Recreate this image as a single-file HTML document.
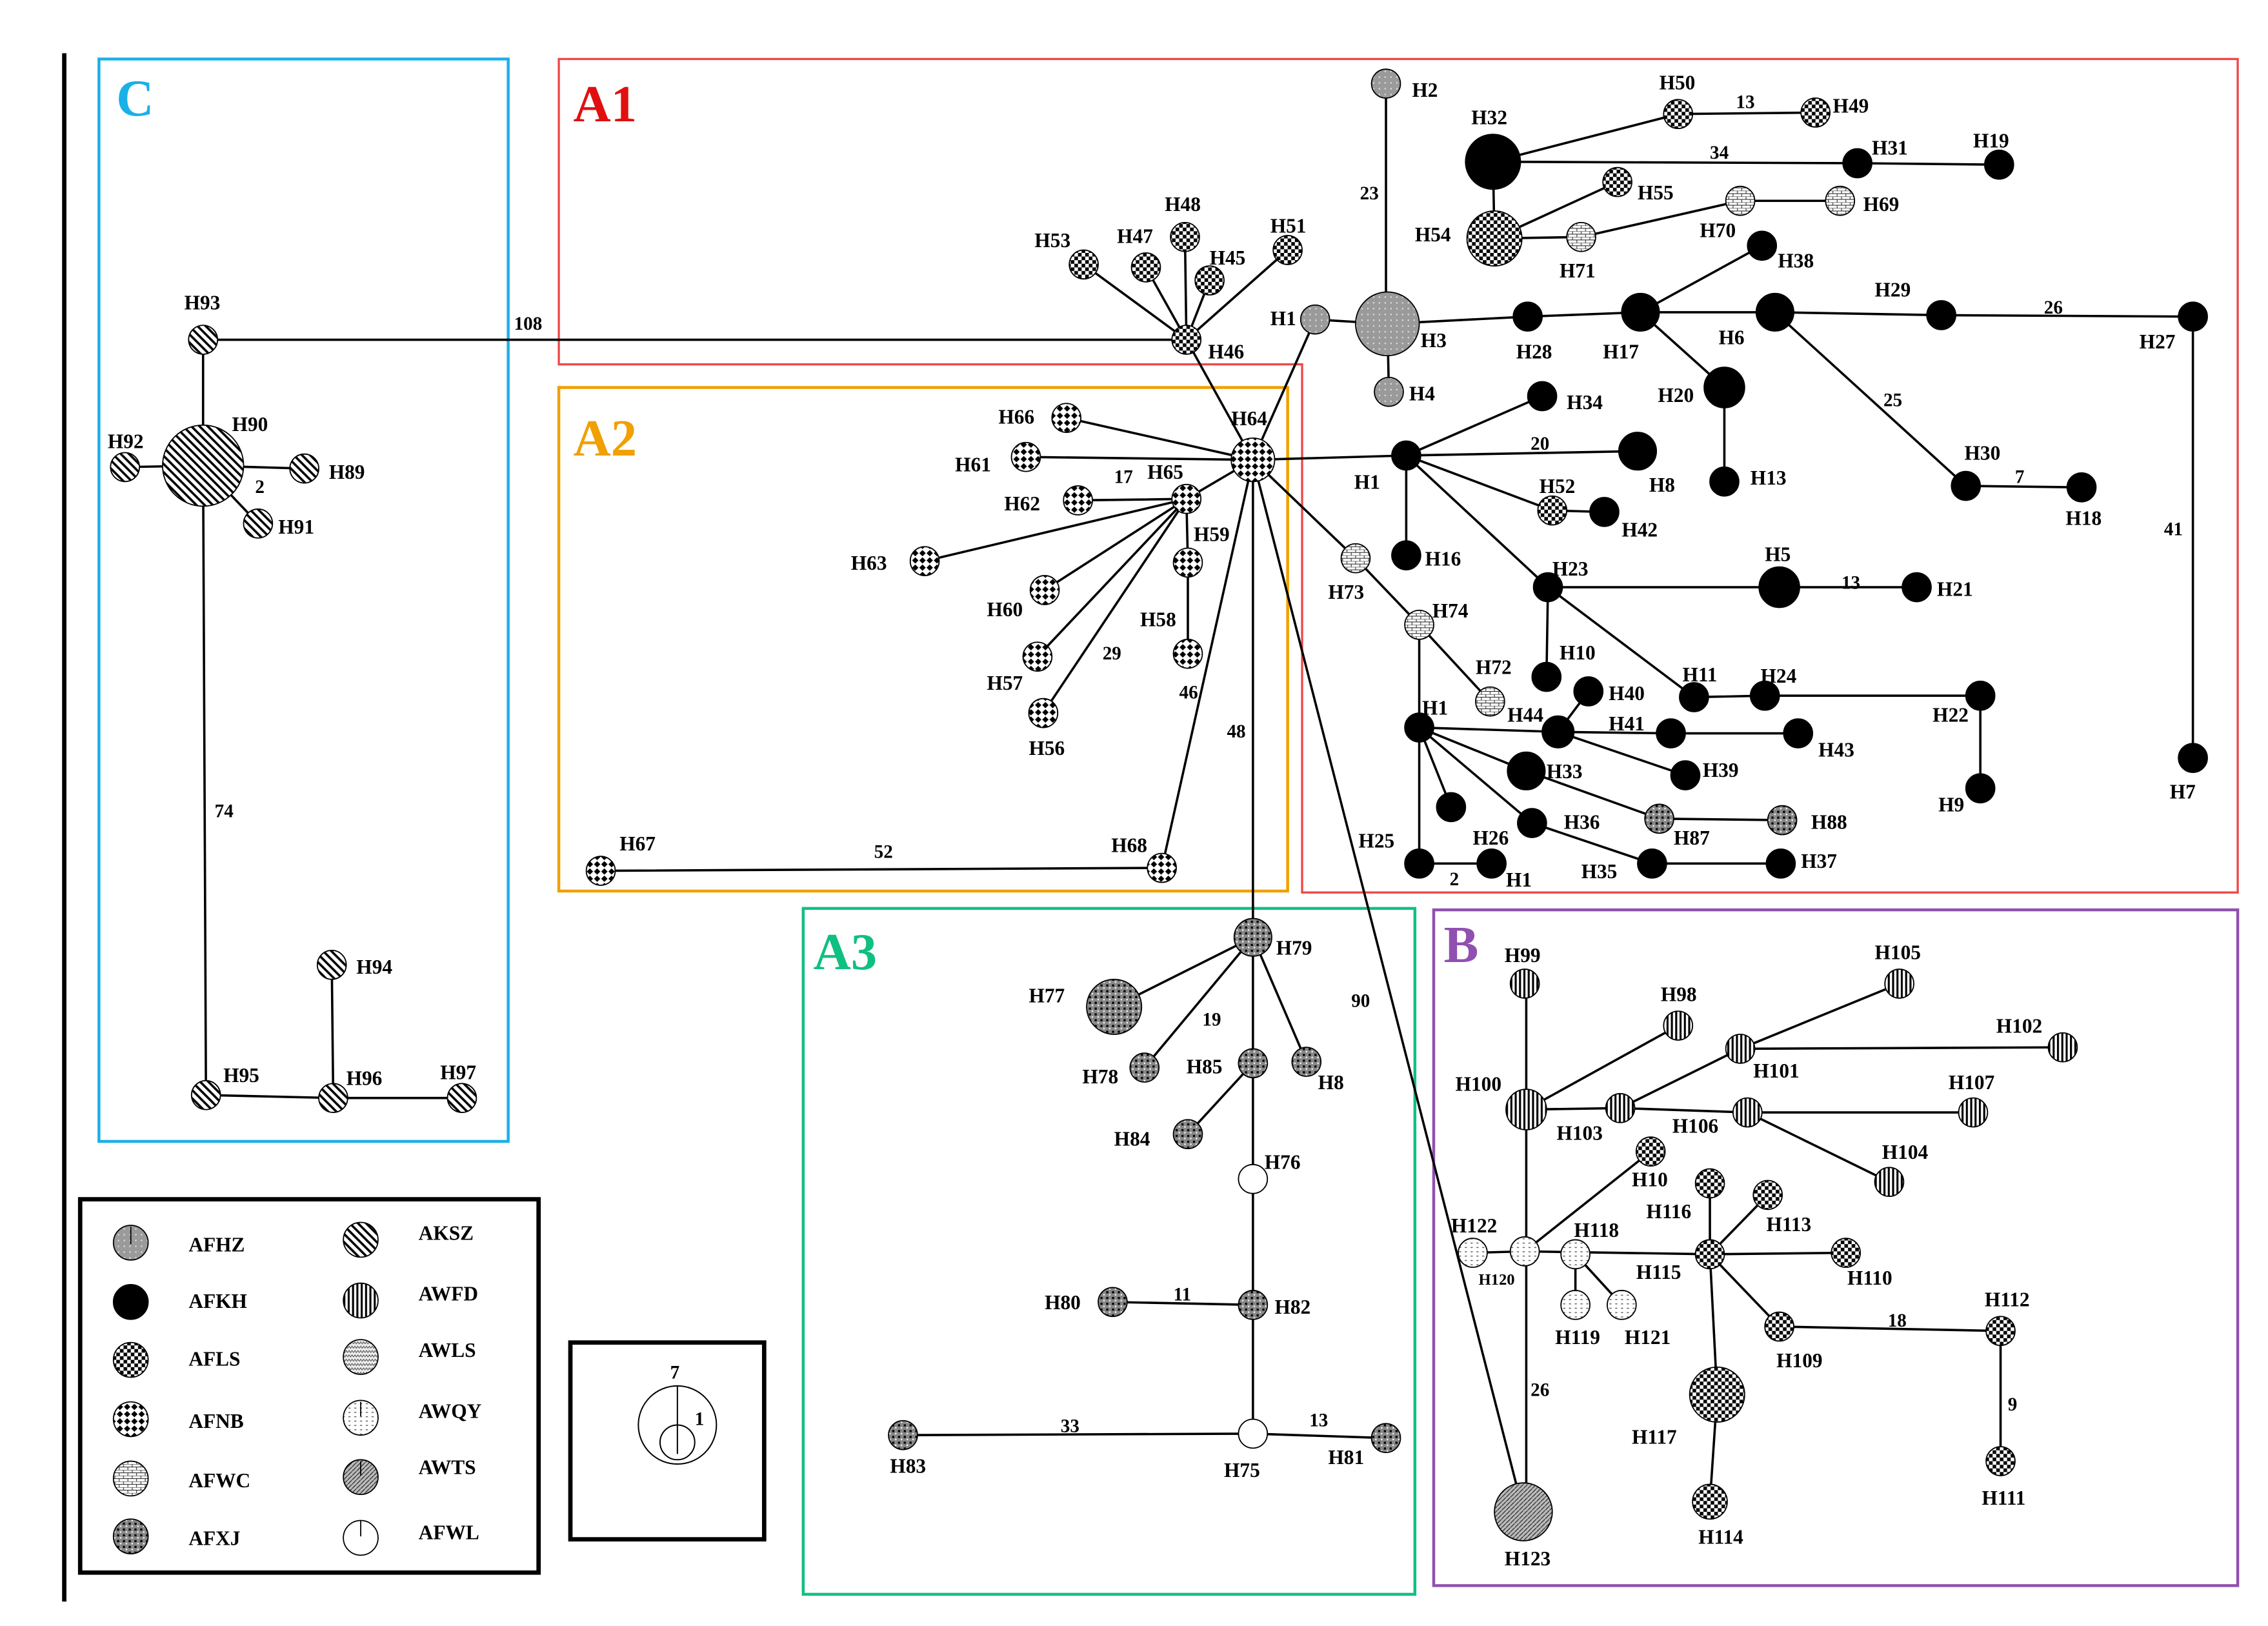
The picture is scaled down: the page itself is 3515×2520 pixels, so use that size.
<!DOCTYPE html>
<html><head><meta charset="utf-8"><style>html,body{margin:0;padding:0;background:#fff}svg{display:block}</style></head>
<body>
<svg width="3515" height="2520" viewBox="0 0 1553 1130" preserveAspectRatio="none" xmlns="http://www.w3.org/2000/svg" font-family="Liberation Serif, serif" font-weight="bold">
<defs>
<pattern id="hz" width="4" height="4" patternUnits="userSpaceOnUse"><rect width="4" height="4" fill="#9a9a9a"/><rect x="1" y="1" width="1" height="1" fill="#ddd"/></pattern>
<pattern id="ls" width="5" height="5" patternUnits="userSpaceOnUse"><rect width="5" height="5" fill="#fff"/><rect width="2.5" height="2.5" fill="#000"/><rect x="2.5" y="2.5" width="2.5" height="2.5" fill="#000"/></pattern>
<pattern id="nb" width="5" height="5" patternUnits="userSpaceOnUse"><rect width="5" height="5" fill="#fff"/><path d="M2.5 0.3L4.7 2.5L2.5 4.7L0.3 2.5Z" fill="#000"/></pattern>
<pattern id="wc" width="6" height="4" patternUnits="userSpaceOnUse"><rect width="6" height="4" fill="#fff"/><path d="M0 0H6M0 2H6M1 0V2M4 2V4" stroke="#333" stroke-width="0.5"/></pattern>
<pattern id="xj" width="4" height="4" patternUnits="userSpaceOnUse"><rect width="4" height="4" fill="#888"/><rect x="0.5" y="0.5" width="1.5" height="1.5" fill="#000"/><rect x="2.5" y="2.5" width="1" height="1" fill="#fff"/></pattern>
<pattern id="sz" width="4" height="4" patternUnits="userSpaceOnUse" patternTransform="rotate(-45)"><rect width="4" height="4" fill="#fff"/><rect width="1.6" height="4" fill="#000"/></pattern>
<pattern id="fd" width="3" height="3" patternUnits="userSpaceOnUse"><rect width="3" height="3" fill="#fff"/><rect width="1.4" height="3" fill="#000"/></pattern>
<pattern id="wl" width="4" height="3" patternUnits="userSpaceOnUse"><rect width="4" height="3" fill="#eee"/><path d="M0 2L1 0.5L2 2L3 0.5L4 2" stroke="#555" stroke-width="0.5" fill="none"/></pattern>
<pattern id="qy" width="4" height="3" patternUnits="userSpaceOnUse"><rect width="4" height="3" fill="#fff"/><rect x="0.5" y="1" width="1.5" height="0.6" fill="#555"/></pattern>
<pattern id="ts" width="3" height="3" patternUnits="userSpaceOnUse"><rect width="3" height="3" fill="#bbb"/><path d="M0 3L3 0" stroke="#333" stroke-width="0.6"/></pattern>
</defs>
<style>
.e{stroke:#000;stroke-width:1.6;fill:none}
.n{stroke:#000;stroke-width:0.8}
text{font-size:14px;fill:#000}
.el{font-size:13px}
.big{font-size:36px}
</style>
<g transform="translate(44,37) scale(0.9902,1.0056) translate(-44,-37)">
<line x1="44" y1="37" x2="44" y2="1107" stroke="#000" stroke-width="3"/>
<rect x="68" y="41" width="283" height="748" fill="none" stroke="#1ab0e8" stroke-width="2"/>
<path d="M386 41H1547V617H900V252H386Z" fill="none" stroke="#f04848" stroke-width="1.5"/>
<rect x="386" y="268" width="504" height="348" fill="none" stroke="#f0a000" stroke-width="2"/>
<rect x="555" y="628" width="423" height="474" fill="none" stroke="#10c080" stroke-width="2"/>
<rect x="991" y="629" width="556" height="467" fill="none" stroke="#9050b0" stroke-width="2"/>
<text x="80" y="80" class="big" style="fill:#1ab0e8">C</text>
<text x="396" y="84" class="big" style="fill:#e01010">A1</text>
<text x="396" y="315" class="big" style="fill:#f0a000">A2</text>
<text x="562" y="670" class="big" style="fill:#10c080">A3</text>
<text x="998" y="665" class="big" style="fill:#9050b0">B</text>

<g class="e">
<path d="M140 235H820M140 235V322M140 322L86 323M140 322L210 324M140 322L178 362M140 322L142 757L230 759L319 759M230 759L229 667"/>
<path d="M820 235L749 183M820 235L792 185M820 235L819 164M820 235L836 194M820 235L890 173M820 235L866 318"/>
<path d="M958 58V224M959 224L909 221M959 224L960 271M909 221L866 318M959 224L1056 219L1134 216L1227 216L1342 218L1516 219L1516 524M1134 216L1218 170M1134 216L1192 268L1192 333M1227 216L1359 336L1439 337"/>
<path d="M1032 112L1160 79L1255 78M1032 112L1284 113L1382 114M1033 165L1032 112M1033 165L1118 126M1033 165L1093 164L1203 139L1272 139"/>
<path d="M866 318L972 315M972 315L1066 274M972 315L1132 312M972 315L1073 353L1109 354M972 315L972 384M972 315L1070 406L1230 406L1325 406M1070 406L1069 468M1070 406L1171 482L1220 481L1369 481L1369 545"/>
<path d="M866 318L937 386L981 432L1030 485M981 432L981 503M981 503L1077 506L1098 478M1077 506L1155 507L1243 507M1077 506L1165 536M981 503L1055 533L1147 566L1232 567M981 503L1003 558M981 503L1059 569L1142 597L1231 597M981 503L981 597L1031 597"/>
<path d="M866 318L737 289M866 318L709 316M866 318L820 345M820 345L745 346M820 345L639 388M820 345L722 408M820 345L717 454M820 345L721 493M820 345L821 389L821 452M866 318L803 600L415 602M866 318L866 648M866 318L1053 1045"/>
<path d="M866 648L770 696M866 648L791 738M866 648L866 735M866 648L903 734M866 735L821 784M866 735V991M866 902L769 900M866 991L624 992M866 991L958 994"/>
<path d="M1055 767V680M1055 767L1160 709M1055 767L1120 766L1203 725L1313 680M1203 725L1426 724M1120 766L1208 769L1364 769M1208 769L1306 817M1055 767V1045M1054 865L1018 866M1054 865L1182 867M1089 867L1089 902M1089 867L1121 902M1054 865L1141 796M1182 867V818M1182 867L1222 826M1182 867L1276 866M1182 867L1230 917L1383 920L1383 1010M1182 867L1187 964L1182 1038"/>
</g>

<g class="n">
<circle cx="140" cy="235" r="10" fill="url(#sz)"/><circle cx="140" cy="322" r="28" fill="url(#sz)"/><circle cx="86" cy="323" r="10" fill="url(#sz)"/><circle cx="210" cy="324" r="10" fill="url(#sz)"/><circle cx="178" cy="362" r="10" fill="url(#sz)"/><circle cx="142" cy="757" r="10" fill="url(#sz)"/><circle cx="230" cy="759" r="10" fill="url(#sz)"/><circle cx="229" cy="667" r="10" fill="url(#sz)"/><circle cx="319" cy="759" r="10" fill="url(#sz)"/>
<circle cx="820" cy="235" r="10" fill="url(#ls)"/><circle cx="749" cy="183" r="10" fill="url(#ls)"/><circle cx="792" cy="185" r="10" fill="url(#ls)"/><circle cx="819" cy="164" r="10" fill="url(#ls)"/><circle cx="836" cy="194" r="10" fill="url(#ls)"/><circle cx="890" cy="173" r="10" fill="url(#ls)"/>
<circle cx="958" cy="58" r="10" fill="url(#hz)"/><circle cx="959" cy="224" r="22" fill="url(#hz)"/><circle cx="909" cy="221" r="10" fill="url(#hz)"/><circle cx="960" cy="271" r="10" fill="url(#hz)"/>
<g fill="#000"><circle cx="1056" cy="219" r="10"/><circle cx="1134" cy="216" r="13"/><circle cx="1227" cy="216" r="13"/><circle cx="1342" cy="218" r="10"/><circle cx="1516" cy="219" r="10"/><circle cx="1516" cy="524" r="10"/><circle cx="1218" cy="170" r="10"/><circle cx="1192" cy="268" r="14"/><circle cx="1192" cy="333" r="10"/><circle cx="1359" cy="336" r="10"/><circle cx="1439" cy="337" r="10"/><circle cx="1032" cy="112" r="19"/><circle cx="1284" cy="113" r="10"/><circle cx="1382" cy="114" r="10"/>
<circle cx="972" cy="315" r="10"/><circle cx="1066" cy="274" r="10"/><circle cx="1132" cy="312" r="13"/><circle cx="1109" cy="354" r="10"/><circle cx="972" cy="384" r="10"/><circle cx="1070" cy="406" r="10"/><circle cx="1230" cy="406" r="14"/><circle cx="1325" cy="406" r="10"/><circle cx="1069" cy="468" r="10"/><circle cx="1171" cy="482" r="10"/><circle cx="1220" cy="481" r="10"/><circle cx="1369" cy="481" r="10"/><circle cx="1369" cy="545" r="10"/>
<circle cx="981" cy="503" r="10"/><circle cx="1077" cy="506" r="11"/><circle cx="1098" cy="478" r="10"/><circle cx="1155" cy="507" r="10"/><circle cx="1243" cy="507" r="10"/><circle cx="1165" cy="536" r="10"/><circle cx="1055" cy="533" r="13"/><circle cx="1003" cy="558" r="10"/><circle cx="1059" cy="569" r="10"/><circle cx="1142" cy="597" r="10"/><circle cx="1231" cy="597" r="10"/><circle cx="981" cy="597" r="10"/><circle cx="1031" cy="597" r="10"/></g>
<circle cx="1147" cy="566" r="10" fill="url(#xj)"/><circle cx="1232" cy="567" r="10" fill="url(#xj)"/>
<circle cx="1160" cy="79" r="10" fill="url(#ls)"/><circle cx="1255" cy="78" r="10" fill="url(#ls)"/><circle cx="1033" cy="165" r="19" fill="url(#ls)"/><circle cx="1118" cy="126" r="10" fill="url(#ls)"/><circle cx="1073" cy="353" r="10" fill="url(#ls)"/>
<circle cx="1093" cy="164" r="10" fill="url(#wc)"/><circle cx="1203" cy="139" r="10" fill="url(#wc)"/><circle cx="1272" cy="139" r="10" fill="url(#wc)"/><circle cx="937" cy="386" r="10" fill="url(#wc)"/><circle cx="981" cy="432" r="10" fill="url(#wc)"/><circle cx="1030" cy="485" r="10" fill="url(#wc)"/>
<circle cx="866" cy="318" r="15" fill="url(#nb)"/><circle cx="737" cy="289" r="10" fill="url(#nb)"/><circle cx="709" cy="316" r="10" fill="url(#nb)"/><circle cx="820" cy="345" r="10" fill="url(#nb)"/><circle cx="745" cy="346" r="10" fill="url(#nb)"/><circle cx="639" cy="388" r="10" fill="url(#nb)"/><circle cx="722" cy="408" r="10" fill="url(#nb)"/><circle cx="717" cy="454" r="10" fill="url(#nb)"/><circle cx="721" cy="493" r="10" fill="url(#nb)"/><circle cx="821" cy="389" r="10" fill="url(#nb)"/><circle cx="821" cy="452" r="10" fill="url(#nb)"/><circle cx="803" cy="600" r="10" fill="url(#nb)"/><circle cx="415" cy="602" r="10" fill="url(#nb)"/>
<circle cx="866" cy="648" r="13" fill="url(#xj)"/><circle cx="770" cy="696" r="19" fill="url(#xj)"/><circle cx="791" cy="738" r="10" fill="url(#xj)"/><circle cx="866" cy="735" r="10" fill="url(#xj)"/><circle cx="903" cy="734" r="10" fill="url(#xj)"/><circle cx="821" cy="784" r="10" fill="url(#xj)"/><circle cx="866" cy="902" r="10" fill="url(#xj)"/><circle cx="769" cy="900" r="10" fill="url(#xj)"/><circle cx="624" cy="992" r="10" fill="url(#xj)"/><circle cx="958" cy="994" r="10" fill="url(#xj)"/>
<circle cx="866" cy="815" r="10" fill="#fff"/><circle cx="866" cy="991" r="10" fill="#fff"/>
<circle cx="1055" cy="767" r="14" fill="url(#fd)"/><circle cx="1054" cy="680" r="10" fill="url(#fd)"/><circle cx="1160" cy="709" r="10" fill="url(#fd)"/><circle cx="1120" cy="766" r="10" fill="url(#fd)"/><circle cx="1203" cy="725" r="10" fill="url(#fd)"/><circle cx="1313" cy="680" r="10" fill="url(#fd)"/><circle cx="1426" cy="724" r="10" fill="url(#fd)"/><circle cx="1208" cy="769" r="10" fill="url(#fd)"/><circle cx="1364" cy="769" r="10" fill="url(#fd)"/><circle cx="1306" cy="817" r="10" fill="url(#fd)"/>
<circle cx="1054" cy="865" r="10" fill="url(#qy)"/><circle cx="1018" cy="866" r="10" fill="url(#qy)"/><circle cx="1089" cy="867" r="10" fill="url(#qy)"/><circle cx="1089" cy="902" r="10" fill="url(#qy)"/><circle cx="1121" cy="902" r="10" fill="url(#qy)"/>
<circle cx="1141" cy="796" r="10" fill="url(#ls)"/><circle cx="1182" cy="867" r="10" fill="url(#ls)"/><circle cx="1182" cy="818" r="10" fill="url(#ls)"/><circle cx="1222" cy="826" r="10" fill="url(#ls)"/><circle cx="1276" cy="866" r="10" fill="url(#ls)"/><circle cx="1230" cy="917" r="10" fill="url(#ls)"/><circle cx="1383" cy="920" r="10" fill="url(#ls)"/><circle cx="1383" cy="1010" r="10" fill="url(#ls)"/><circle cx="1187" cy="964" r="19" fill="url(#ls)"/><circle cx="1182" cy="1038" r="12" fill="url(#ls)"/>
<circle cx="1053" cy="1045" r="20" fill="url(#ts)"/>
</g>

<g>
<text x="127" y="214">H93</text><text x="160" y="298">H90</text><text x="74" y="310">H92</text><text x="227" y="331">H89</text><text x="192" y="369">H91</text><text x="154" y="748">H95</text><text x="239" y="750">H96</text><text x="246" y="673">H94</text><text x="304" y="746">H97</text>
<text x="715" y="171">H53</text><text x="772" y="168">H47</text><text x="805" y="146">H48</text><text x="836" y="183">H45</text><text x="878" y="161">H51</text><text x="835" y="248">H46</text>
<text x="976" y="67">H2</text><text x="982" y="240">H3</text><text x="878" y="225">H1</text><text x="974" y="277">H4</text><text x="1048" y="248">H28</text><text x="1108" y="248">H17</text><text x="1188" y="238">H6</text><text x="1296" y="205">H29</text><text x="1479" y="241">H27</text><text x="1500" y="552">H7</text><text x="1229" y="185">H38</text><text x="1146" y="278">H20</text><text x="1210" y="335">H13</text><text x="1358" y="318">H30</text><text x="1428" y="363">H18</text>
<text x="1017" y="86">H32</text><text x="1147" y="62">H50</text><text x="1267" y="78">H49</text><text x="1294" y="107">H31</text><text x="1364" y="102">H19</text><text x="978" y="167">H54</text><text x="1132" y="138">H55</text><text x="1078" y="192">H71</text><text x="1175" y="164">H70</text><text x="1288" y="146">H69</text>
<text x="851" y="294">H64</text><text x="936" y="338">H1</text><text x="1083" y="283">H34</text><text x="1140" y="340">H8</text><text x="1064" y="341">H52</text><text x="1121" y="371">H42</text><text x="985" y="391">H16</text><text x="1073" y="398">H23</text><text x="1220" y="388">H5</text><text x="1339" y="412">H21</text><text x="1078" y="456">H10</text><text x="1163" y="471">H11</text><text x="1217" y="472">H24</text><text x="1336" y="499">H22</text><text x="1340" y="561">H9</text>
<text x="918" y="414">H73</text><text x="990" y="427">H74</text><text x="1020" y="466">H72</text><text x="983" y="494">H1</text><text x="1042" y="499">H44</text><text x="1112" y="484">H40</text><text x="1112" y="505">H41</text><text x="1257" y="523">H43</text><text x="1177" y="537">H39</text><text x="1069" y="538">H33</text><text x="1157" y="584">H87</text><text x="1252" y="573">H88</text><text x="1018" y="584">H26</text><text x="1081" y="573">H36</text><text x="939" y="586">H25</text><text x="1041" y="613">H1</text><text x="1093" y="607">H35</text><text x="1245" y="600">H37</text>
<text x="690" y="293">H66</text><text x="660" y="326">H61</text><text x="793" y="331">H65</text><text x="694" y="353">H62</text><text x="588" y="394">H63</text><text x="682" y="426">H60</text><text x="825" y="374">H59</text><text x="788" y="433">H58</text><text x="682" y="477">H57</text><text x="711" y="522">H56</text><text x="768" y="589">H68</text><text x="428" y="588">H67</text>
<text x="882" y="660">H79</text><text x="711" y="693">H77</text><text x="748" y="749">H78</text><text x="820" y="742">H85</text><text x="911" y="753">H8</text><text x="770" y="792">H84</text><text x="874" y="808">H76</text><text x="722" y="905">H80</text><text x="881" y="908">H82</text><text x="615" y="1018">H83</text><text x="846" y="1021">H75</text><text x="918" y="1012">H81</text>
<text x="1040" y="665">H99</text><text x="1148" y="692">H98</text><text x="1296" y="663">H105</text><text x="1380" y="714">H102</text><text x="1212" y="745">H101</text><text x="1006" y="754">H100</text><text x="1076" y="788">H103</text><text x="1156" y="783">H106</text><text x="1347" y="753">H107</text><text x="1301" y="801">H104</text><text x="1128" y="820">H10</text><text x="1138" y="842">H116</text><text x="1221" y="851">H113</text><text x="1003" y="852">H122</text><text x="1022" y="888" style="font-size:11px">H120</text><text x="1088" y="855">H118</text><text x="1131" y="884">H115</text><text x="1277" y="888">H110</text><text x="1075" y="929">H119</text><text x="1123" y="929">H121</text><text x="1228" y="945">H109</text><text x="1372" y="903">H112</text><text x="1370" y="1040">H111</text><text x="1128" y="998">H117</text><text x="1174" y="1067">H114</text><text x="1040" y="1082">H123</text>
</g>
<g class="el">
<text x="355" y="228" class="el">108</text><text x="148" y="565" class="el">74</text><text x="176" y="341" class="el">2</text><text x="940" y="138" class="el">23</text><text x="1200" y="75" class="el">13</text><text x="1182" y="110" class="el">34</text><text x="1413" y="217" class="el">26</text><text x="1302" y="281" class="el">25</text><text x="1496" y="370" class="el">41</text><text x="1393" y="334" class="el">7</text><text x="1058" y="311" class="el">20</text><text x="1273" y="407" class="el">13</text><text x="1002" y="612" class="el">2</text><text x="770" y="334" class="el">17</text><text x="762" y="456" class="el">29</text><text x="815" y="483" class="el">46</text><text x="848" y="510" class="el">48</text><text x="604" y="593" class="el">52</text><text x="831" y="709" class="el">19</text><text x="934" y="696" class="el">90</text><text x="811" y="899" class="el">11</text><text x="733" y="990" class="el">33</text><text x="905" y="986" class="el">13</text><text x="1058" y="965" class="el">26</text><text x="1305" y="917" class="el">18</text><text x="1388" y="975" class="el">9</text>
</g>

<rect x="55" y="829" width="317" height="258" fill="none" stroke="#000" stroke-width="3"/>
<g class="n">
<circle cx="90" cy="859" r="12" fill="url(#hz)"/><circle cx="90" cy="900" r="12" fill="#000"/><circle cx="90" cy="940" r="12" fill="url(#ls)"/><circle cx="90" cy="981" r="12" fill="url(#nb)"/><circle cx="90" cy="1022" r="12" fill="url(#wc)"/><circle cx="90" cy="1062" r="12" fill="url(#xj)"/>
<circle cx="249" cy="857" r="12" fill="url(#sz)"/><circle cx="249" cy="899" r="12" fill="url(#fd)"/><circle cx="249" cy="938" r="12" fill="url(#wl)"/><circle cx="249" cy="980" r="12" fill="url(#qy)"/><circle cx="249" cy="1021" r="12" fill="url(#ts)"/><circle cx="249" cy="1063" r="12" fill="#fff"/>
</g>
<path d="M90 848V860M249 1051V1062M249 969V979M249 1010V1020" stroke="#000" stroke-width="0.8"/>
<g style="font-size:15px">
<text x="130" y="865">AFHZ</text><text x="130" y="904">AFKH</text><text x="130" y="944">AFLS</text><text x="130" y="987">AFNB</text><text x="130" y="1028">AFWC</text><text x="130" y="1068">AFXJ</text>
<text x="289" y="857">AKSZ</text><text x="289" y="899">AWFD</text><text x="289" y="938">AWLS</text><text x="289" y="980">AWQY</text><text x="289" y="1019">AWTS</text><text x="289" y="1064">AFWL</text>
</g>
<rect x="394" y="928" width="134" height="136" fill="none" stroke="#000" stroke-width="3"/>
<circle cx="468" cy="985" r="27" fill="none" stroke="#000" stroke-width="0.9"/>
<circle cx="468" cy="997" r="12" fill="none" stroke="#000" stroke-width="0.9"/>
<line x1="468" y1="958" x2="468" y2="1005" stroke="#000" stroke-width="0.9"/>
<text x="463" y="953" class="el">7</text><text x="480" y="985" class="el">1</text>
</g>
</svg>
</body></html>
